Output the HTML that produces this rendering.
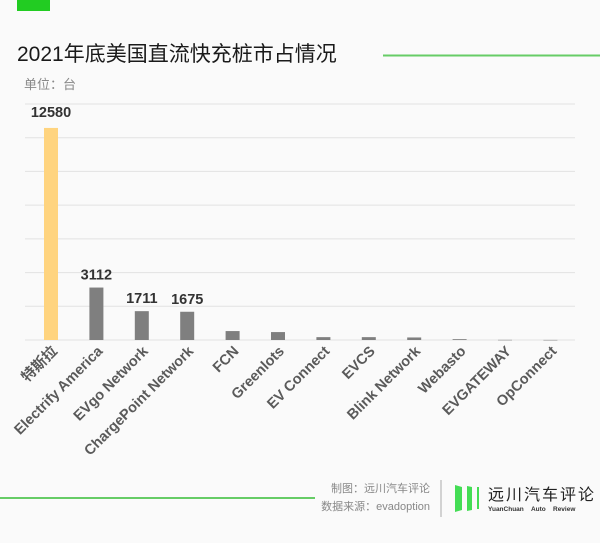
<!DOCTYPE html>
<html><head><meta charset="utf-8"><style>
body{margin:0;background:#fafafa;}
svg{display:block;font-family:"Liberation Sans","Noto Sans CJK SC",sans-serif;}
</style></head><body>
<svg width="600" height="543" viewBox="0 0 600 543">
<rect width="600" height="543" fill="#fafafa"/>
<rect x="17" y="0" width="33" height="11" fill="#22cc22"/>
<text x="17" y="61" font-size="21" fill="#1a1a1a">2021年底美国直流快充桩市占情况</text>
<line x1="383" y1="55.5" x2="600" y2="55.5" stroke="#66cc66" stroke-width="2"/>
<text x="24" y="89" font-size="13" fill="#888">单位：台</text>
<g id="grid"></g>
<g id="bars"></g>
<g id="labels"></g>
<line x1="0" y1="498" x2="315" y2="498" stroke="#66cc66" stroke-width="2"/>
<text x="430" y="492" font-size="11" fill="#888" text-anchor="end">制图：远川汽车评论</text>
<text x="430" y="510" font-size="11" fill="#888" text-anchor="end">数据来源：evadoption</text>
<line x1="441" y1="480" x2="441" y2="517" stroke="#aaa" stroke-width="1"/>
<g>
<polygon points="455,485 462,487 462,510 455,512" fill="#44dd55"/>
<polygon points="467,486 472,487 472,510 467,511" fill="#44dd55"/>
<rect x="477" y="487" width="2" height="22" fill="#44dd55"/>
<text x="488" y="500" font-size="16" fill="#222" letter-spacing="2">远川汽车评论</text>
<text x="488" y="511" font-size="6.5" font-weight="bold" fill="#333">YuanChuan&#160;&#160;&#160;&#160;Auto&#160;&#160;&#160;&#160;Review</text>
</g>
</svg>
<script>
const categories=["特斯拉","Electrify America","EVgo Network","ChargePoint Network","FCN","Greenlots","EV Connect","EVCS","Blink Network","Webasto","EVGATEWAY","OpConnect"];
const values=[12580,3112,1711,1675,530,470,170,170,150,50,10,5];
const labelShown=[true,true,true,true,false,false,false,false,false,false,false,false];
const gridTicks=[0,2000,4000,6000,8000,10000,12000,14000];
const NS="http://www.w3.org/2000/svg";
const y0=340,yTop=104,yMax=14000;
function yScale(v){return y0-(v/yMax)*(y0-yTop);}
function xScale(i){return 51+i*45.4;}
const grid=document.getElementById('grid'),bars=document.getElementById('bars'),labels=document.getElementById('labels');
gridTicks.forEach(t=>{
 const l=document.createElementNS(NS,'line');
 l.setAttribute('x1',25);l.setAttribute('x2',575);
 l.setAttribute('y1',yScale(t));l.setAttribute('y2',yScale(t));
 l.setAttribute('stroke','#e2e2e2');l.setAttribute('stroke-width','1');
 
 
 grid.appendChild(l);
});
values.forEach((v,i)=>{
 const r=document.createElementNS(NS,'rect');
 const x=xScale(i),y=yScale(v);
 r.setAttribute('x',x-7);r.setAttribute('width',14);
 r.setAttribute('y',y);r.setAttribute('height',Math.max(y0-y,0.5));
 r.setAttribute('fill',i===0?'#ffd47f':'#7f7f7f');
 
 
 bars.appendChild(r);
 if(labelShown[i]){
  const t=document.createElementNS(NS,'text');
  t.setAttribute('x',x);t.setAttribute('y',i===0?117:y-8);
  t.setAttribute('text-anchor','middle');t.setAttribute('font-size','14.5');
  t.setAttribute('font-weight','bold');t.setAttribute('fill','#333');
  t.textContent=v;
  
  
  bars.appendChild(t);
 }
 const c=document.createElementNS(NS,'text');
 c.setAttribute('transform','translate('+(x+7)+',352) rotate(-45)');
 c.setAttribute('text-anchor','end');c.setAttribute('font-size','14.5');
 c.setAttribute('font-weight','bold');c.setAttribute('fill','#5a5a5a');
 c.textContent=categories[i];
 
 
 labels.appendChild(c);
});
</script>
</body></html>
